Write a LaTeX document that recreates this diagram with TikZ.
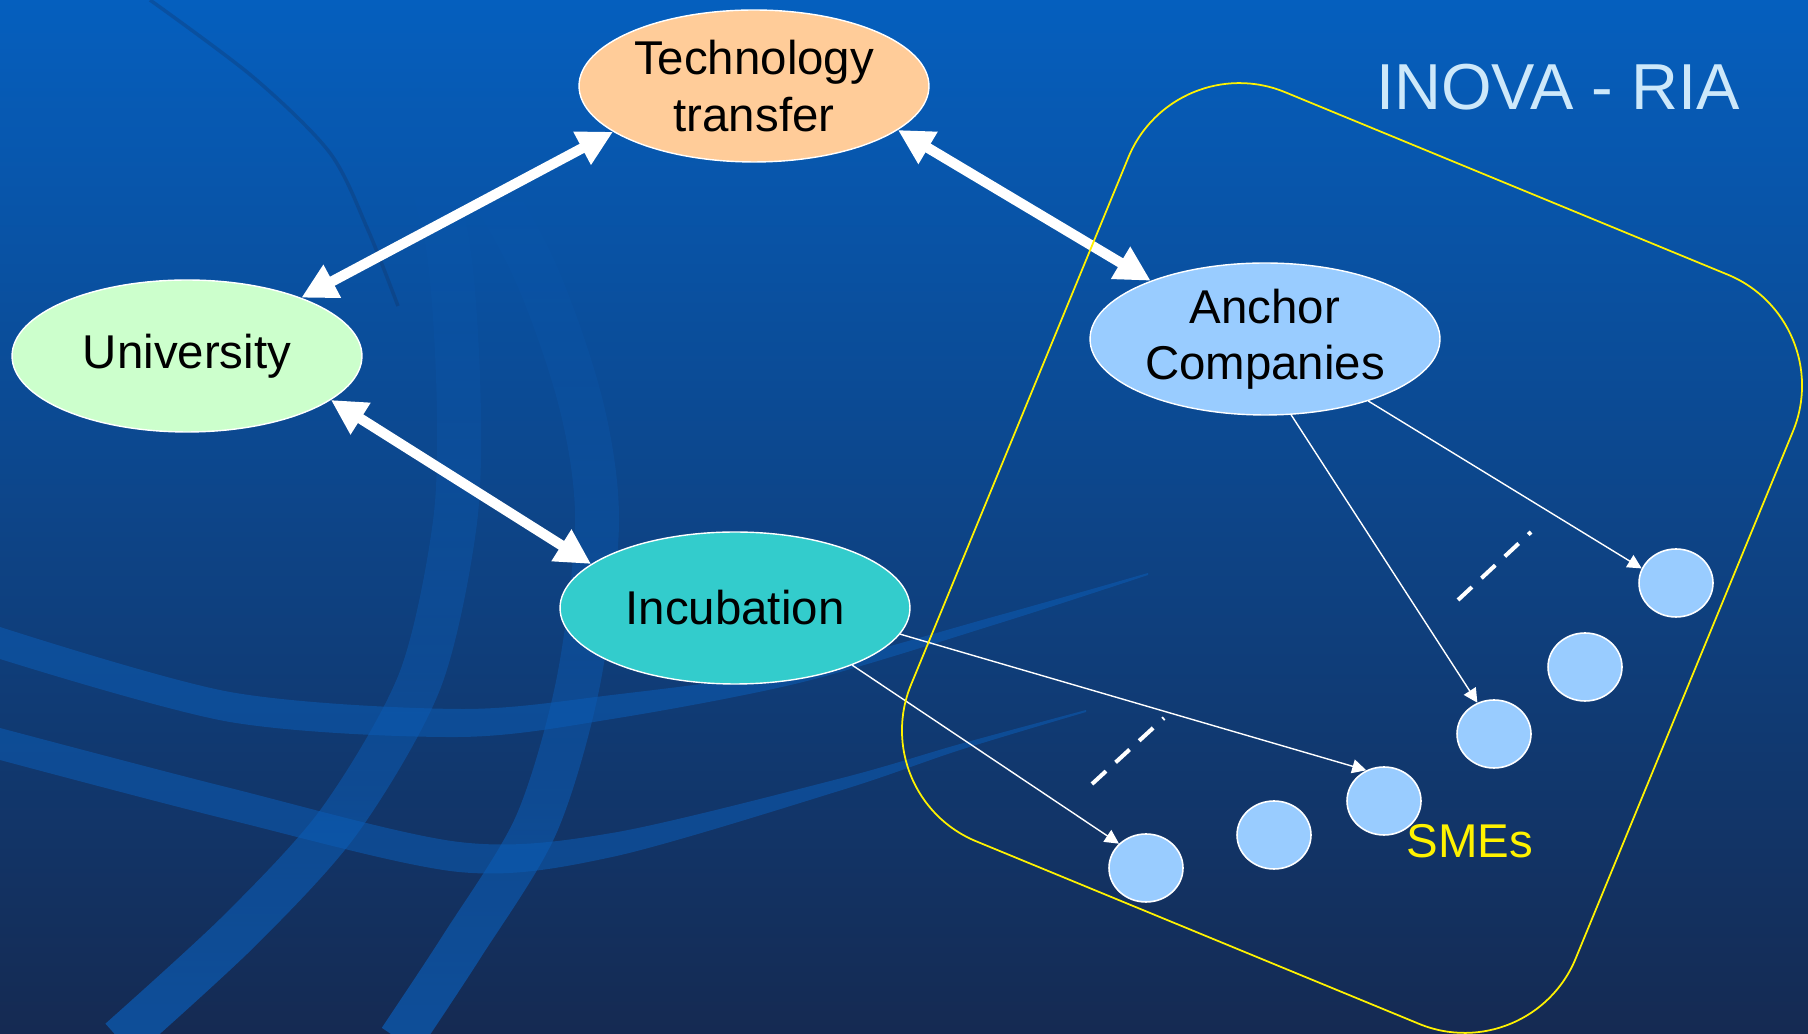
\documentclass[tikz,border=0pt]{standalone}
\usepackage{fontspec}
\setmainfont{Liberation Sans}
\usepackage{xcolor}
\usepackage{tikz}
\usetikzlibrary{shapes.geometric, arrows.meta, fadings}
\definecolor{peach}{HTML}{FFCC99}
\definecolor{mint}{HTML}{CCFFCC}
\definecolor{teal}{HTML}{33CCCC}
\definecolor{sky}{HTML}{99CCFF}
\definecolor{bgtop}{HTML}{055FBE}
\definecolor{bgmid}{HTML}{0C4A8E}
\definecolor{bgbot}{HTML}{152A52}
\definecolor{bandc}{HTML}{0C5CB4}
\definecolor{ttlc}{HTML}{CDE8FA}
\tikzstyle{ea} = [ellipse, minimum width=7cm, minimum height=3.04cm, inner sep=0pt, text centered, align=center, draw=white, line width=0.8pt, font=\fontsize{27}{32}\selectfont]
\tikzstyle{ta} = [ea, fill=peach]
\tikzstyle{ua} = [ea, fill=mint]
\tikzstyle{ia} = [ea, fill=teal]
\tikzstyle{ca} = [ea, fill=sky]
\tikzstyle{sme} = [ellipse, minimum width=1.48cm, minimum height=1.36cm, inner sep=0pt, draw=white, line width=0.9pt, fill=sky]
\tikzstyle{lbl} = [text=yellow, font=\fontsize{27}{32}\selectfont]
\tikzstyle{ttl} = [text=ttlc, font=\fontsize{37}{44}\selectfont]
\tikzstyle{region} = [rectangle, draw=yellow, line width=1pt, rounded corners=2.4cm, minimum width=14.38cm, minimum height=16.21cm, rotate=-22.4]
\tikzstyle{barrow} = [white, line width=5.8pt, {Triangle[length=20pt,width=20pt]}-{Triangle[length=20pt,width=20pt]}]
\tikzstyle{arrow} = [white, line width=0.8pt, -{Triangle[length=8pt,width=8pt]}]
\tikzstyle{dline} = [white, line width=2.3pt, dash pattern=on 10.8pt off 7.4pt]
\tikzstyle{band} = [fill=bandc, fill opacity=0.55]
\tikzstyle{merid} = [draw=bandc, draw opacity=0.75, line width=25pt, path fading=north]

\begin{document}
\begin{tikzpicture}[x=0.02cm, y=0.02cm]

\useasboundingbox (0,0) rectangle (1808,1034);
\clip (0,0) rectangle (1808,1034);

% background and globe
\shade [top color=bgtop, middle color=bgmid, bottom color=bgbot] (0,0) rectangle (1808,1034);
\draw [draw=bgbot, draw opacity=0.25, line width=2pt] plot [smooth] coordinates {(150,1034) (253,957) (330,881) (368,804) (398,728)};
\draw [merid] plot [smooth] coordinates {(400,940) (445,804) (458,654) (455,513) (420,354) (340,214) (240,104) (120,-6)};
\draw [merid] plot [smooth] coordinates {(440,930) (530,774) (580,634) (597,513) (578,351) (536,209) (462,88) (400,-6)};
\fill [band] plot [smooth] coordinates {(0,407) (230,342) (459,325) (612,339) (803,366) (1000,419) (1148,461)}
  -- plot [smooth] coordinates {(1148,459) (1000,411) (803,352) (612,315) (459,297) (230,312) (0,375)} -- cycle;
\fill [band] plot [smooth] coordinates {(0,306) (230,246) (459,192) (612,201) (842,256) (960,290) (1086,324)}
  -- plot [smooth] coordinates {(1086,322) (960,284) (842,244) (612,177) (459,162) (230,214) (0,274)} -- cycle;

\node (T) [ta] at (754,948) {Technology\\transfer};
\node (U) [ua] at (187,678) {University};
\node (I) [ia] at (735,426) {Incubation};
\node (C) [ca] at (1265,695) {Anchor\\Companies};

\node (s1) [sme] at (1146,166) {};
\node (s2) [sme] at (1274,199) {};
\node (s3) [sme] at (1384,233) {};
\node (s4) [sme] at (1494,300) {};
\node (s5) [sme] at (1585,367) {};
\node (s6) [sme] at (1676,451) {};

\node (smes) [lbl] at (1470,193) {SMEs};
\node (title) [ttl] at (1558,947) {INOVA - RIA};

\coordinate (d1) at (1092,250);
\coordinate (d2) at (1164,316);
\coordinate (d3) at (1458,434);
\coordinate (d4) at (1531,502);

\draw [barrow] (T.198) -- (U.27);
\draw [barrow] (T.-17) -- (C.153);
\draw [barrow] (U.-17) -- (I.163);

\draw [arrow] (I.-26) -- (s1.138);
\draw [arrow] (I.-9) -- (s3.120);
\draw [arrow] (C.-71) -- (s4.118);
\draw [arrow] (C.-31) -- (s6.157);

\draw [dline] (d1) -- (d2);
\draw [dline] (d3) -- (d4);

\node (ria) [region] at (1352,476) {};

\end{tikzpicture}
\end{document}
